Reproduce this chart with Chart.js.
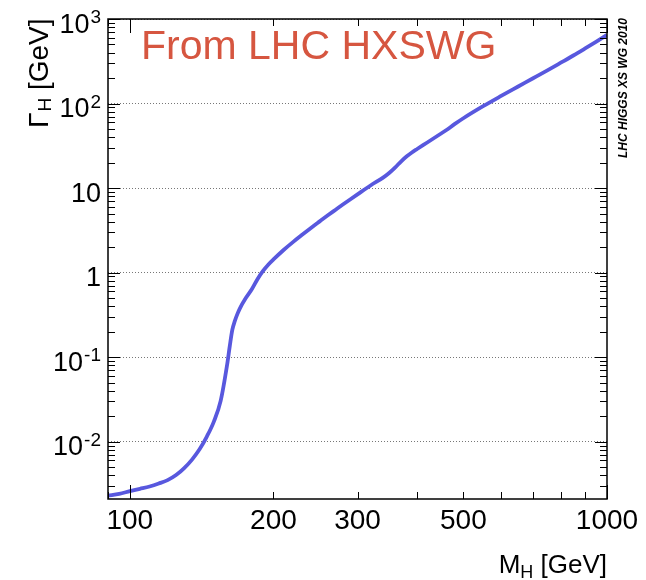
<!DOCTYPE html>
<html>
<head>
<meta charset="utf-8">
<script src="https://cdn.jsdelivr.net/npm/chart.js@4.4.1/dist/chart.umd.min.js"></script>
<style>
  body { margin: 0; background: #fff; }
  #wrap { width: 646px; height: 580px; }
</style>
</head>
<body>
<div id="wrap"><canvas id="widthChart"></canvas></div>
<script>
// Higgs mass (GeV) and total width Gamma_H (GeV)
const massGeV = [90, 95, 100, 105, 110, 115, 120, 125, 130, 135, 140, 145, 150, 155, 160, 162, 164, 166, 168, 170, 175, 180, 185, 190, 195, 200,
  210, 220, 230, 240, 250, 260, 270, 280, 290, 300, 320, 340, 350, 360, 370, 380, 390, 400, 420, 440, 460, 480, 500,
  550, 600, 650, 700, 750, 800, 850, 900, 950, 1000];
const widthGeV = [0.0023, 0.00242, 0.0026, 0.00277, 0.00295, 0.0032, 0.00351, 0.00403, 0.00487, 0.00614, 0.00812, 0.0115, 0.0173, 0.0304, 0.083, 0.136, 0.211, 0.269, 0.323, 0.376, 0.5, 0.631, 0.83, 1.04, 1.24, 1.43,
  1.85, 2.31, 2.82, 3.4, 4.04, 4.76, 5.55, 6.43, 7.39, 8.43, 10.8, 13.4, 15.2, 17.6, 20.6, 23.6, 26.4, 29.0, 34.6, 41.0, 48.3, 57.4, 67.0,
  93.0, 123, 158, 199, 247, 304, 370, 449, 541, 647];

const xTickValues = [100, 200, 300, 500, 1000];
const xTickLabels = ["100", "200", "300", "500", "1000"];
const yTickValues = [0.01, 0.1, 1, 10, 100, 1000];
const yTickBase = ["10", "10", "1", "10", "10", "10"];
const yTickExp = ["-2", "-1", "", "", "2", "3"];

const annotationText = "From LHC HXSWG";
const sideText = "LHC HIGGS XS WG 2010";
const FONT = "'Liberation Sans', Arial, Helvetica, sans-serif";

// frame, inner ticks and all the extra text ROOT-style
const rootStyle = {
  id: "rootStyle",
  afterDraw(chart) {
    const ctx = chart.ctx;
    const a = chart.chartArea;
    const xs = chart.scales.x;
    const ys = chart.scales.y;
    ctx.save();
    ctx.strokeStyle = "#000";
    ctx.lineWidth = 1;

    // x ticks (bottom and top)
    for (let e = 1; e <= 3; e++) {
      for (let k = 1; k <= 9; k++) {
        const v = k * Math.pow(10, e);
        if (v < xs.min || v > xs.max) continue;
        const px = Math.round(xs.getPixelForValue(v)) + 0.5;
        const len = k === 1 ? 14 : 7;
        ctx.beginPath();
        ctx.moveTo(px, a.bottom); ctx.lineTo(px, a.bottom - len);
        ctx.moveTo(px, a.top); ctx.lineTo(px, a.top + len);
        ctx.stroke();
      }
    }
    // y ticks (left and right)
    for (let e = -3; e <= 3; e++) {
      for (let k = 1; k <= 9; k++) {
        const v = k * Math.pow(10, e);
        if (v < ys.min || v > ys.max) continue;
        const py = Math.round(ys.getPixelForValue(v)) + 0.5;
        const len = k === 1 ? 12 : 7;
        ctx.beginPath();
        ctx.moveTo(a.left, py); ctx.lineTo(a.left + len, py);
        ctx.moveTo(a.right, py); ctx.lineTo(a.right - len, py);
        ctx.stroke();
      }
    }
    ctx.lineWidth = 1.5;
    ctx.strokeRect(a.left, a.top, a.right - a.left, a.bottom - a.top);

    // y labels with superscript exponents
    ctx.fillStyle = "#000";
    ctx.textBaseline = "alphabetic";
    ctx.textAlign = "right";
    yTickValues.forEach((v, i) => {
      const py = ys.getPixelForValue(v);
      let right = 101;
      if (yTickExp[i]) {
        ctx.font = "19px " + FONT;
        ctx.fillText(yTickExp[i], right, py + 4);
        right -= ctx.measureText(yTickExp[i]).width + 1;
      }
      ctx.font = "27px " + FONT;
      ctx.fillText(yTickBase[i], right, py + 13.5);
    });

    // y title: Gamma_H [GeV]
    ctx.save();
    ctx.translate(48, 128);
    ctx.rotate(-Math.PI / 2);
    ctx.textAlign = "left";
    ctx.font = "28px " + FONT;
    ctx.fillText("Γ", 0, 0);
    let w = ctx.measureText("Γ").width;
    ctx.font = "19px " + FONT;
    ctx.fillText("H", w + 1, 3);
    w += ctx.measureText("H").width + 1;
    ctx.font = "28px " + FONT;
    ctx.fillText(" [GeV]", w, 0);
    ctx.restore();

    // x title: M_H [GeV]
    ctx.textAlign = "left";
    ctx.font = "26px " + FONT;
    const tail = " [GeV]";
    const wM = ctx.measureText("M").width;
    const wTail = ctx.measureText(tail).width;
    ctx.font = "18px " + FONT;
    const wH = ctx.measureText("H").width;
    let x0 = a.right - (wM + wH + wTail);
    ctx.font = "26px " + FONT;
    ctx.fillText("M", x0, 573);
    ctx.font = "18px " + FONT;
    ctx.fillText("H", x0 + wM, 578);
    ctx.font = "26px " + FONT;
    ctx.fillText(tail, x0 + wM + wH, 573);

    // annotation
    ctx.fillStyle = "rgb(214, 86, 64)";
    ctx.font = "41px " + FONT;
    ctx.fillText(annotationText, 141, 59);

    // side label
    ctx.save();
    ctx.fillStyle = "#000";
    ctx.translate(627, 18);
    ctx.rotate(-Math.PI / 2);
    ctx.textAlign = "right";
    ctx.font = "italic bold 12px " + FONT;
    ctx.fillText(sideText, 0, 0);
    ctx.restore();

    ctx.restore();
  }
};

const data = {
  datasets: [{
    label: "Gamma_H",
    data: massGeV.map((m, i) => ({ x: m, y: widthGeV[i] })),
    borderColor: "rgb(88, 88, 222)",
    borderWidth: 3.8,
    pointRadius: 0,
    cubicInterpolationMode: "monotone",
    fill: false
  }]
};

const config = {
  type: "line",
  data,
  options: {
    responsive: true,
    maintainAspectRatio: false,
    animation: false,
    layout: { padding: { top: 19, right: 39, left: 0, bottom: 0 } },
    plugins: { legend: { display: false }, tooltip: { enabled: false } },
    scales: {
      x: {
        type: "logarithmic",
        min: 90,
        max: 1000,
        grid: { display: false, drawTicks: false },
        border: { display: false },
        afterBuildTicks: (s) => { s.ticks = xTickValues.map((v) => ({ value: v })); },
        afterFit: (s) => { s.height = 81; },
        ticks: {
          autoSkip: false,
          maxRotation: 0,
          padding: 5,
          color: "#000",
          font: { family: FONT, size: 28 },
          callback: (v, i) => xTickLabels[i]
        }
      },
      y: {
        type: "logarithmic",
        min: 0.0021,
        max: 1000,
        grid: { color: "#777", lineWidth: 1, drawTicks: false },
        border: { display: false, dash: [1, 2] },
        afterBuildTicks: (s) => { s.ticks = yTickValues.map((v) => ({ value: v })); },
        afterFit: (s) => { s.width = 108; },
        ticks: { display: false }
      }
    }
  },
  plugins: [rootStyle]
};

const widthChart = new Chart(document.getElementById("widthChart"), config);
</script>
</body>
</html>
